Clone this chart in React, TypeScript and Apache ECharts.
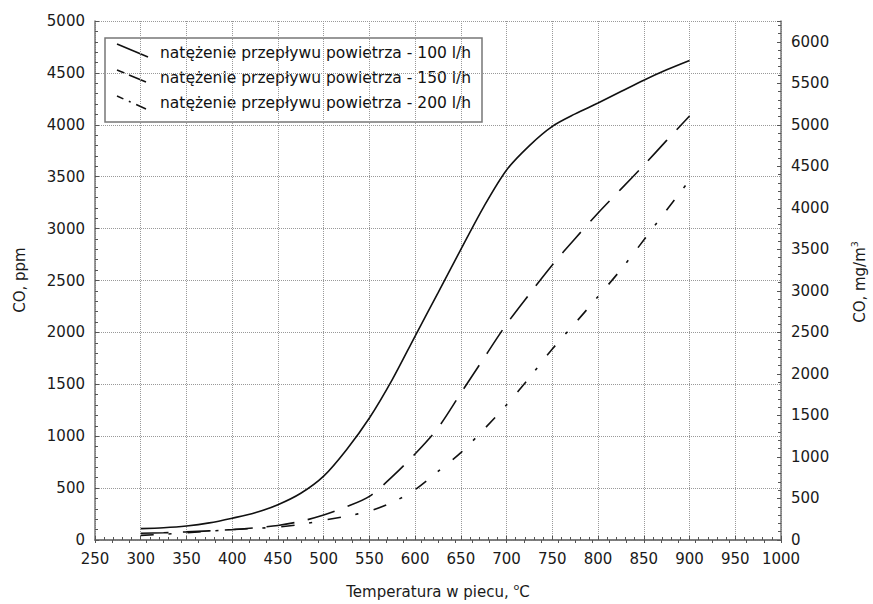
import React, { useEffect, useRef } from "react";
import * as echarts from "echarts";

const temps = [300, 325, 350, 375, 400, 425, 450, 475, 500, 525, 550, 575, 600, 625, 650, 675, 700, 725, 750, 775, 800, 825, 850, 875, 900];
const co100 = [110, 118, 135, 165, 210, 262, 340, 450, 615, 870, 1175, 1545, 1965, 2380, 2800, 3210, 3565, 3800, 3985, 4105, 4210, 4320, 4430, 4530, 4620];
const co150 = [65, 70, 78, 88, 100, 118, 140, 180, 240, 320, 420, 610, 830, 1080, 1415, 1750, 2080, 2370, 2650, 2905, 3150, 3380, 3610, 3850, 4085];
const co200 = [45, 55, 70, 85, 100, 112, 125, 150, 190, 230, 278, 362, 485, 660, 842, 1065, 1302, 1565, 1840, 2090, 2345, 2605, 2890, 3180, 3465];

const seriesNames = [
  "natężenie przepływu powietrza - 100 l/h",
  "natężenie przepływu powietrza - 150 l/h",
  "natężenie przepływu powietrza - 200 l/h",
];

const FONT = '"DejaVu Sans", "Liberation Sans", Arial, sans-serif';

export default function App() {
  const ref = useRef<HTMLDivElement>(null);
  useEffect(() => {
    if (!ref.current) return;
    const chart = echarts.init(ref.current, undefined, { renderer: "svg" });
    const axisLine = { show: true, lineStyle: { color: "#777", width: 1.5 } };
    const split = { show: true, lineStyle: { color: "#999", type: "dotted", width: 1 } };
    const lbl = { color: "#1a1a1a", fontSize: 15, fontFamily: FONT, formatter: (v: number) => String(v) };
    const mk = (vals: number[]) => temps.map((t, i) => [t, vals[i]]);
    const lineCommon = { type: "line", showSymbol: false, smooth: 0.3, xAxisIndex: 0, yAxisIndex: 0 };
    const sup = { fontSize: 9.5, fontFamily: FONT, fill: "#1a1a1a", lineHeight: 9, verticalAlign: "top" };
    const tick = { show: true, inside: true, length: 4, lineStyle: { color: "#555" } };
    const minor = { show: true, splitNumber: 5, length: 3, lineStyle: { color: "#555" } };
    chart.setOption({
      animation: false,
      backgroundColor: "#fff",
      grid: { left: 95, right: 92, top: 21, bottom: 64 },
      xAxis: [
        {
          type: "value", min: 250, max: 1000, interval: 50, position: "bottom",
          axisLine, axisTick: tick, minorTick: minor,
          splitLine: split, axisLabel: { ...lbl, margin: 11 },
        },
        {
          type: "value", min: 250, max: 1000, interval: 18.75, position: "top",
          axisLine, axisTick: { ...tick, length: 3 },
          axisLabel: { show: false }, splitLine: { show: false },
        },
      ],
      yAxis: [
        {
          type: "value", min: 0, max: 5000, interval: 500, position: "left",
          axisLine, axisTick: tick, minorTick: minor,
          splitLine: split, axisLabel: { ...lbl, margin: 10 },
        },
        {
          type: "value", min: 0, max: 6250, interval: 500, position: "right",
          axisLine, axisTick: tick, minorTick: minor,
          splitLine: { show: false },
          axisLabel: { ...lbl, margin: 10, formatter: (v: number) => (v % 500 === 0 ? String(v) : "") },
        },
      ],
      series: [
        { ...lineCommon, name: seriesNames[0], data: mk(co100), lineStyle: { color: "#111", width: 1.6, type: "solid" } },
        { ...lineCommon, name: seriesNames[1], data: mk(co150), lineStyle: { color: "#111", width: 1.6, type: [28, 14] } },
        { ...lineCommon, name: seriesNames[2], data: mk(co200), lineStyle: { color: "#111", width: 1.6, type: [13, 15, 3, 16] } },
      ],
      graphic: [
        {
          type: "group", z: 100,
          children: [
            { type: "rect", shape: { x: 105, y: 38, width: 377, height: 84 }, style: { fill: "#fff", stroke: "#777", lineWidth: 1.5 } },
            { type: "line", shape: { x1: 117, y1: 44, x2: 148, y2: 57 }, style: { stroke: "#111", lineWidth: 1.6 } },
            { type: "line", shape: { x1: 117, y1: 70, x2: 146, y2: 82 }, style: { stroke: "#111", lineWidth: 1.6, lineDash: [8, 5, 30] } },
            { type: "line", shape: { x1: 117, y1: 96, x2: 146, y2: 109 }, style: { stroke: "#111", lineWidth: 1.6, lineDash: [7, 6, 2, 6, 12] } },
            ...seriesNames.map((n, i) => ({
              type: "text", x: 160, y: 53 + i * 25,
              style: { text: n, fontSize: 15.5, fontFamily: FONT, fill: "#111", align: "left", verticalAlign: "middle" },
            })),
          ],
        },
        {
          type: "text", x: 20, y: 280, rotation: Math.PI / 2,
          style: { text: "CO, ppm", fontSize: 15, fontFamily: FONT, fill: "#1a1a1a", align: "center", verticalAlign: "middle" },
        },
        {
          type: "text", x: 860, y: 282, rotation: Math.PI / 2,
          style: { text: "CO, mg/m{sup|3}", rich: { sup }, fontSize: 15, fontFamily: FONT, fill: "#1a1a1a", lineHeight: 22, align: "center", verticalAlign: "middle" },
        },
        {
          type: "text", x: 438, y: 592,
          style: { text: "Temperatura w piecu, {sup|o}C", rich: { sup }, fontSize: 15, fontFamily: FONT, fill: "#1a1a1a", lineHeight: 22, align: "center", verticalAlign: "middle" },
        },
      ],
    });
    return () => chart.dispose();
  }, []);
  return <div ref={ref} style={{ position: "fixed", left: 0, top: 0, width: 873, height: 604, background: "#fff" }} />;
}
